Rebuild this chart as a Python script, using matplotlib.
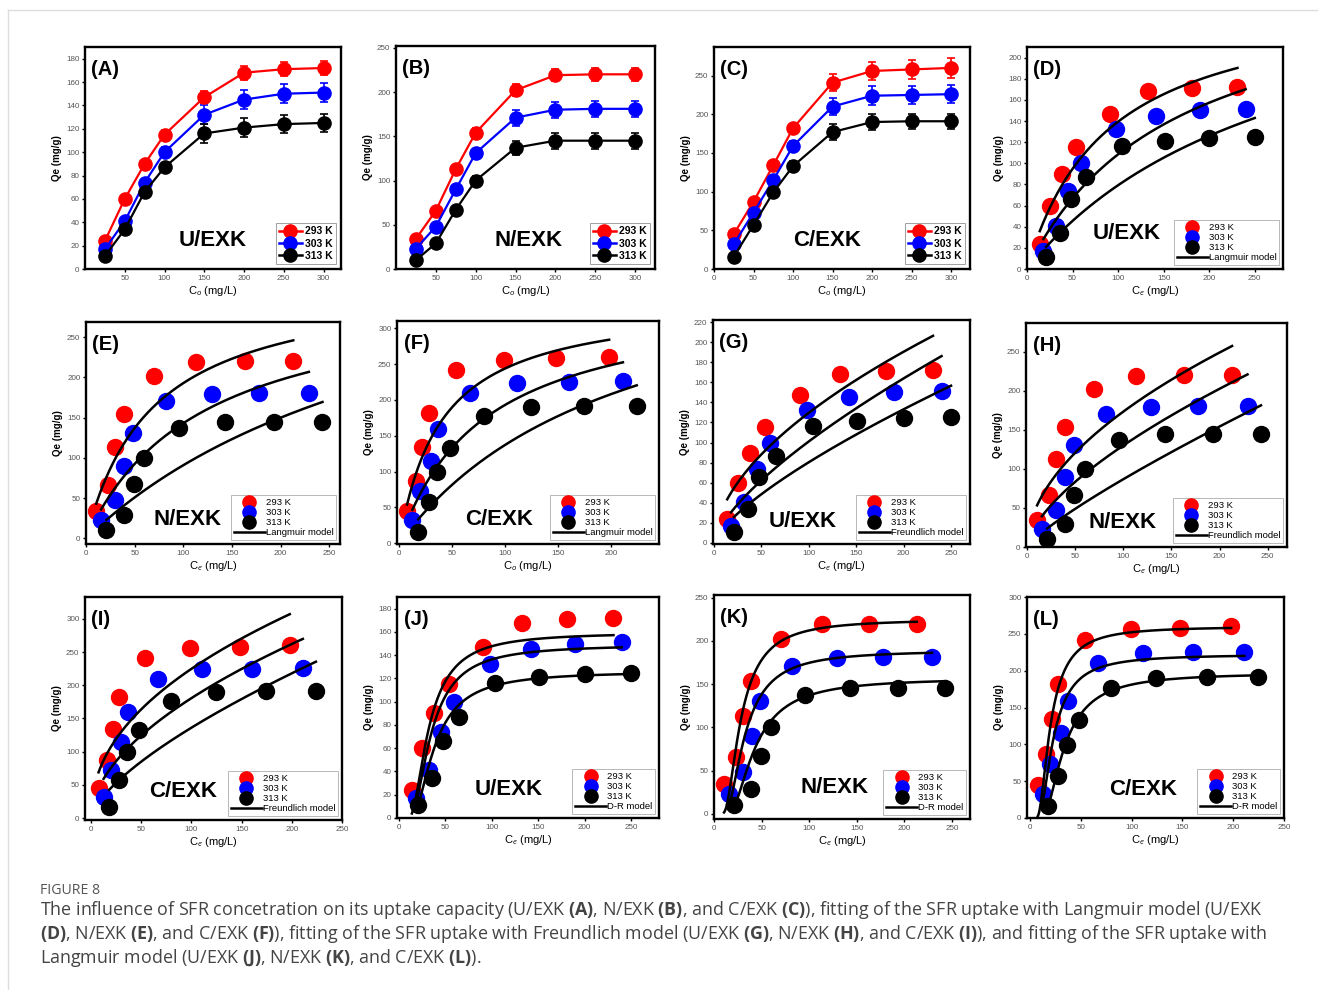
import numpy as np
import matplotlib
matplotlib.use("Agg")
import matplotlib.pyplot as plt
from matplotlib.lines import Line2D

plt.rcParams['font.family'] = ['Liberation Sans', 'DejaVu Sans']
plt.rcParams['mathtext.fontset'] = 'custom'
plt.rcParams['mathtext.rm'] = 'Open Sans'
plt.rcParams['mathtext.bf'] = 'Open Sans:bold'
plt.rcParams['mathtext.it'] = 'Open Sans:italic'

temps = ['293 K', '303 K', '313 K']
temps_k = [293, 303, 313]
colors = ['#ff0000', '#0000ff', '#000000']

# initial concentration (mg/L)
c0 = [25, 50, 75, 100, 150, 200, 250, 300]

# uptake Qe (mg/g), rows = 293 / 303 / 313 K
qe_u = [[24, 60, 90, 115, 147, 168, 171, 172],
        [17, 41, 74, 100, 132, 145, 150, 151],
        [11, 34, 66, 87, 116, 121, 124, 125]]
qe_n = [[34, 66, 113, 154, 202, 219, 220, 220],
        [23, 48, 90, 131, 171, 180, 181, 181],
        [10, 29, 67, 100, 137, 145, 145, 145]]
qe_c = [[45, 87, 134, 182, 241, 256, 258, 260],
        [32, 73, 115, 159, 210, 224, 225, 226],
        [16, 57, 99, 133, 177, 190, 191, 191]]

# error bars for panels A-C
err_u = [[2, 3, 3, 4, 5, 6, 6, 6],
         [2, 3, 3, 4, 8, 8, 8, 8],
         [2, 3, 3, 4, 8, 8, 8, 8]]
err_n = [[2, 3, 4, 5, 7, 7, 7, 7],
         [2, 3, 4, 5, 9, 9, 9, 9],
         [2, 3, 4, 5, 8, 9, 9, 9]]
err_c = [[3, 4, 5, 6, 11, 12, 12, 13],
         [3, 4, 5, 6, 11, 12, 12, 12],
         [3, 4, 5, 6, 10, 10, 10, 10]]

# equilibrium concentration Ce (mg/L)
ce_u = [[14, 25, 38, 54, 91, 133, 181, 231],
        [18, 32, 45, 59, 98, 142, 190, 240],
        [21, 36, 48, 65, 104, 151, 200, 250]]
ce_n = [[10.5, 23, 30, 39, 70, 113, 163, 213],
        [15.5, 30, 39.5, 48.5, 82, 129, 178, 229],
        [21, 39, 49, 60, 96, 143, 193, 243]]
ce_c = [[7.5, 16, 21.5, 28, 54, 99, 148, 198],
        [12.5, 20, 30, 37, 66.5, 111, 160, 211],
        [18, 28, 36, 48, 80, 124, 174, 224]]

# Langmuir: qm (mg/g), KL (L/mg)
lang_qm_u = [263.5, 286, 307]
lang_kl_u = [0.01123, 0.00611, 0.00348]
lang_qm_n = [325.6, 316, 428]
lang_kl_n = [0.01456, 0.00829, 0.0027]
lang_qm_c = [341, 349, 430]
lang_kl_c = [0.0251, 0.01238, 0.00469]

# Freundlich: KF, 1/n
fr_kf_u = [10.06, 4.08, 2.82]
fr_n_u = [0.555, 0.697, 0.7275]
fr_kf_n = [15.6, 6.81, 1.90]
fr_n_n = [0.523, 0.6405, 0.830]
fr_kf_c = [27.4, 15.16, 5.94]
fr_n_c = [0.457, 0.538, 0.68]

# D-R: qm (mg/g), beta (mol2/kJ2)
dr_qm_u = [159.5, 149, 126]
dr_beta_u = [131.4, 141.8, 162.4]
dr_qm_n = [225, 189, 157]
dr_beta_n = [101.1, 126.1, 203.8]
dr_qm_c = [260, 222, 197]
dr_beta_c = [52.2, 63.0, 125.5]

R = 8.314e-3

W, H = 1318, 990
fig = plt.figure(figsize=(W / 100, H / 100), dpi=100)


def add_ax(l, t, r, b):
    return fig.add_axes([l / W, 1 - b / H, (r - l) / W, (b - t) / H])


def style_ax(ax, xlim, ylim, xticks, yticks, xlab, tag, name, name_pos):
    ax.set_xlim(*xlim)
    ax.set_ylim(*ylim)
    ax.set_xticks(xticks)
    ax.set_yticks(yticks)
    for s in ax.spines.values():
        s.set_linewidth(1.7)
    ax.tick_params(direction='out', length=2.5, width=1, labelsize=5.8,
                   labelcolor='#555555', pad=1.5, top=False, right=False)
    ax.set_xlabel(xlab, fontsize=8, labelpad=2)
    ax.set_ylabel('Qe (mg/g)', fontsize=7, fontweight='bold', labelpad=3)
    ax.text(0.025, 0.9, tag, transform=ax.transAxes, fontsize=14.5,
            fontweight='bold', va='center', ha='left')
    ax.text(name_pos[0], name_pos[1], name, transform=ax.transAxes,
            fontsize=16, fontweight='bold', va='center', ha='center')


def model_curve(kind, p1, p2, ce, T):
    x = np.linspace(min(ce), max(ce), 300)
    if kind == 'Langmuir':
        y = p1 * p2 * x / (1 + p2 * x)
    elif kind == 'Freundlich':
        y = p1 * x ** p2
    else:
        eps = R * T * np.log(1 + 1 / x)
        y = p1 * np.exp(-p2 * eps ** 2)
    return x, y


# panels A-C: uptake vs C0
top_panels = [
    ('(A)', (85, 47, 341, 269), qe_u, err_u, 'U/EXK', (0.50, 0.13),
     (0, 322), (0, 190), [50, 100, 150, 200, 250, 300], np.arange(0, 181, 20)),
    ('(B)', (396, 46, 655, 269), qe_n, err_n, 'N/EXK', (0.51, 0.13),
     (0, 325), (0, 252), [50, 100, 150, 200, 250, 300], np.arange(0, 251, 50)),
    ('(C)', (714, 47, 970, 269), qe_c, err_c, 'C/EXK', (0.44, 0.13),
     (0, 324), (0, 287), np.arange(0, 301, 50), np.arange(0, 251, 50)),
]

for tag, box, qe, err, name, npos, xl, yl, xt, yt in top_panels:
    ax = add_ax(*box)
    for i in range(3):
        ax.errorbar(c0, qe[i], yerr=err[i], fmt='-o', color=colors[i],
                    ms=9.5, lw=1.6, elinewidth=1.2, capsize=3, capthick=1.2)
    style_ax(ax, xl, yl, xt, yt, 'C$_o$ (mg/L)', tag, name, npos)
    handles = [Line2D([], [], color=colors[i], marker='o', ms=9.5, lw=1.8)
               for i in range(3)]
    leg = ax.legend(handles, temps, loc='lower right', fontsize=7.5,
                    frameon=True, fancybox=False, edgecolor='#888888',
                    handlelength=2.2, handletextpad=0.3, labelspacing=0.2,
                    borderaxespad=0.5, borderpad=0.3)
    leg.get_frame().set_linewidth(0.7)
    for t in leg.get_texts():
        t.set_fontweight('bold')

# panels D-L: isotherm fits
fit_panels = [
    ('(D)', (1027, 47, 1283, 269), 'Langmuir', ce_u, qe_u, lang_qm_u, lang_kl_u,
     'U/EXK', (0.39, 0.16), (0, 281), (0, 210), np.arange(0, 251, 50),
     np.arange(0, 201, 20), 'C$_e$ (mg/L)'),
    ('(E)', (86, 322, 340, 544), 'Langmuir', ce_n, qe_n, lang_qm_n, lang_kl_n,
     'N/EXK', (0.40, 0.11), (0, 261), (-7, 269), np.arange(0, 251, 50),
     np.arange(0, 251, 50), 'C$_e$ (mg/L)'),
    ('(F)', (397, 321, 659, 544), 'Langmuir', ce_c, qe_c, lang_qm_c, lang_kl_c,
     'C/EXK', (0.39, 0.11), (-2, 245), (-1, 310), np.arange(0, 201, 50),
     np.arange(0, 301, 50), 'C$_o$ (mg/L)'),
    ('(G)', (713, 320, 970, 544), 'Freundlich', ce_u, qe_u, fr_kf_u, fr_n_u,
     'U/EXK', (0.35, 0.10), (-1, 270), (-1, 222), np.arange(0, 251, 50),
     np.arange(0, 221, 20), 'C$_e$ (mg/L)'),
    ('(H)', (1026, 323, 1287, 547), 'Freundlich', ce_n, qe_n, fr_kf_n, fr_n_n,
     'N/EXK', (0.37, 0.11), (-1, 270), (0, 287), np.arange(0, 251, 50),
     np.arange(0, 251, 50), 'C$_e$ (mg/L)'),
    ('(I)', (85, 597, 342, 820), 'Freundlich', ce_c, qe_c, fr_kf_c, fr_n_c,
     'C/EXK', (0.38, 0.13), (-6, 250), (-3, 333), np.arange(0, 251, 50),
     np.arange(0, 301, 50), 'C$_e$ (mg/L)'),
    ('(J)', (397, 597, 659, 818), 'D-R', ce_u, qe_u, dr_qm_u, dr_beta_u,
     'U/EXK', (0.425, 0.13), (-2, 280), (0, 190), np.arange(0, 251, 50),
     np.arange(0, 181, 20), 'C$_e$ (mg/L)'),
    ('(K)', (714, 595, 970, 819), 'D-R', ce_n, qe_n, dr_qm_n, dr_beta_n,
     'N/EXK', (0.47, 0.14), (0, 269), (-6, 253), np.arange(0, 251, 50),
     np.arange(0, 251, 50), 'C$_e$ (mg/L)'),
    ('(L)', (1027, 597, 1284, 818), 'D-R', ce_c, qe_c, dr_qm_c, dr_beta_c,
     'C/EXK', (0.45, 0.13), (-3, 250), (0, 300), np.arange(0, 251, 50),
     np.arange(0, 301, 50), 'C$_e$ (mg/L)'),
]

for (tag, box, kind, ce, qe, p1, p2, name, npos, xl, yl, xt, yt,
     xlab) in fit_panels:
    ax = add_ax(*box)
    for i in range(3):
        ax.plot(ce[i], qe[i], 'o', color=colors[i], ms=11.5, zorder=2)
    for i in range(3):
        x, y = model_curve(kind, p1[i], p2[i], ce[i], temps_k[i])
        ax.plot(x, y, color='black', lw=1.8, zorder=3)
    style_ax(ax, xl, yl, xt, yt, xlab, tag, name, npos)
    handles = [Line2D([], [], color=colors[i], marker='o', ms=9.5, ls='none')
               for i in range(3)]
    handles.append(Line2D([], [], color='black', lw=1.8))
    leg = ax.legend(handles, temps + [kind + ' model'], loc='lower right',
                    fontsize=6.8, frameon=True, fancybox=False,
                    edgecolor='#999999', handlelength=3.3, handletextpad=0.1,
                    labelspacing=0.12, borderaxespad=0.4, borderpad=0.3)
    leg.get_frame().set_linewidth(0.6)

# page border
fig.add_artist(Line2D([8 / W, 1], [1 - 10 / H, 1 - 10 / H], color='#dddddd', lw=1))
fig.add_artist(Line2D([8 / W, 8 / W], [0, 1 - 10 / H], color='#dddddd', lw=1))

# caption
fig.text(40 / W, 1 - 891 / H, 'FIGURE 8', fontsize=10.2, color='#555555',
         family='Open Sans', va='center')
cap = [
    r'The influence of SFR concetration on its uptake capacity (U/EXK $\mathbf{(A)}$, '
    r'N/EXK $\mathbf{(B)}$, and C/EXK $\mathbf{(C)}$), fitting of the SFR uptake with '
    r'Langmuir model (U/EXK',
    r'$\mathbf{(D)}$, N/EXK $\mathbf{(E)}$, and C/EXK $\mathbf{(F)}$), fitting of the SFR '
    r'uptake with Freundlich model (U/EXK $\mathbf{(G)}$, N/EXK $\mathbf{(H)}$, and C/EXK '
    r'$\mathbf{(I)}$), and fitting of the SFR uptake with',
    r'Langmuir model (U/EXK $\mathbf{(J)}$, N/EXK $\mathbf{(K)}$, and C/EXK $\mathbf{(L)}$).',
]
for k, line in enumerate(cap):
    fig.text(40 / W, 1 - (910 + 24 * k) / H, line, fontsize=12.9,
             color='#444444', family='Open Sans', va='center')

fig.savefig('out.png', dpi=100)
